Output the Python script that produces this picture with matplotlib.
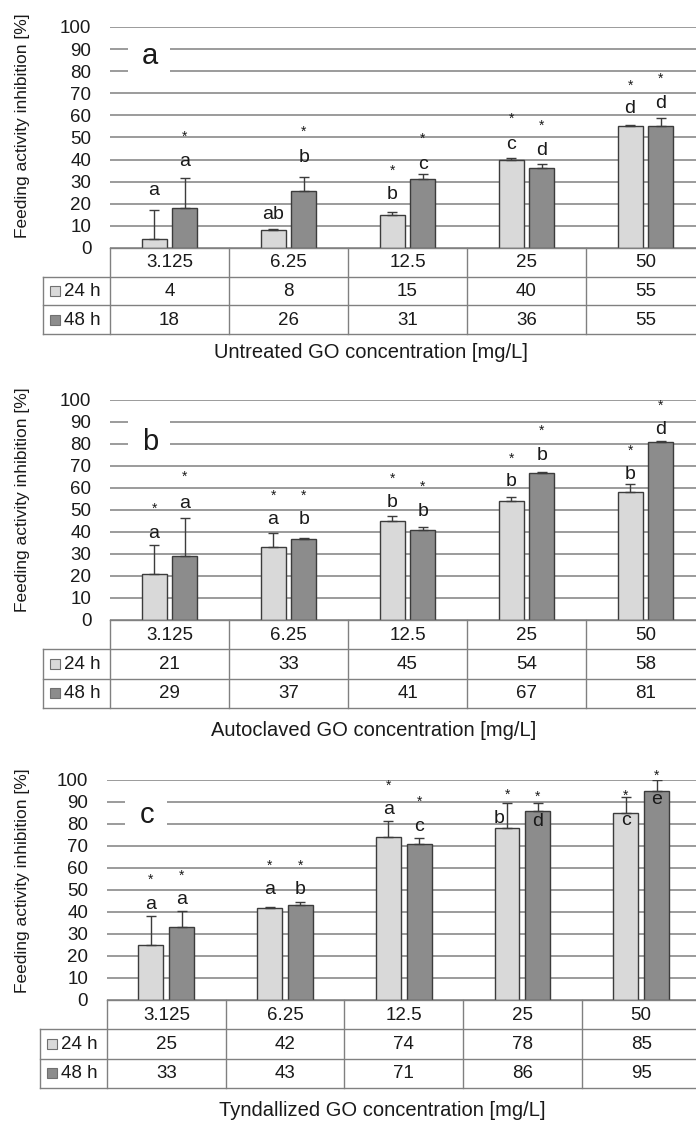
import matplotlib
matplotlib.use("Agg")
import matplotlib.pyplot as plt
from matplotlib.patches import Rectangle
import matplotlib.transforms as mtransforms

plt.rcParams['font.family'] = ['Liberation Sans', 'DejaVu Sans']

# ---------------- data ----------------
concentrations = ["3.125", "6.25", "12.5", "25", "50"]
series_names = ["24 h", "48 h"]
panel_letters = ["a", "b", "c"]
x_titles = ["Untreated GO concentration [mg/L]",
            "Autoclaved GO concentration [mg/L]",
            "Tyndallized GO concentration [mg/L]"]
y_title = "Feeding activity inhibition [%]"

a_24 = [4, 8, 15, 40, 55]
a_48 = [18, 26, 31, 36, 55]
a_err24 = [13, 0.5, 1.5, 0.5, 0.7]
a_err48 = [13.5, 6, 2.5, 2, 4]
a_let24 = ["a", "ab", "b", "c", "d"]
a_let48 = ["a", "b", "c", "d", "d"]
a_lety24 = [26, 15, 24, 47, 63]
a_lety48 = [39, 41, 38, 44, 65.5]
a_star24 = [None, None, 37.5, 61, 76]
a_star48 = [53, 55, 52, 58, 79]

b_24 = [21, 33, 45, 54, 58]
b_48 = [29, 37, 41, 67, 81]
b_err24 = [13, 6.4, 2.3, 2, 4]
b_err48 = [17.5, 0.3, 1.4, 0.3, 0.3]
b_let24 = ["a", "a", "b", "b", "b"]
b_let48 = ["a", "b", "b", "b", "d"]
b_lety24 = [39.4, 45.5, 53.3, 63, 66]
b_lety48 = [53, 45.5, 49.5, 75, 86.7]
b_star24 = [53, 59, 66.7, 76, 79.5]
b_star48 = [67.4, 59, 63, 88.6, 100]

c_24 = [25, 42, 74, 78, 85]
c_48 = [33, 43, 71, 86, 95]
c_err24 = [13, 0.5, 7.5, 11.4, 7.4]
c_err48 = [7.6, 1.7, 2.8, 3.7, 5]
c_let24 = ["a", "a", "a", "b", "c"]
c_let48 = ["a", "b", "c", "d", "e"]
c_lety24 = [43.6, 50, 86.7, 82.6, 81.8]
c_lety48 = [45.5, 50, 78.8, 81, 91]
c_letdx24 = [0, 0, 0, -0.07, 0]
c_star24 = [57, 63.6, 100, 95.8, 95.5]
c_star48 = [59, 63.6, 92.4, 94.7, 104.5]

panels = [
    dict(v24=a_24, v48=a_48, e24=a_err24, e48=a_err48, l24=a_let24, l48=a_let48,
         ly24=a_lety24, ly48=a_lety48, s24=a_star24, s48=a_star48, dx24=[0]*5),
    dict(v24=b_24, v48=b_48, e24=b_err24, e48=b_err48, l24=b_let24, l48=b_let48,
         ly24=b_lety24, ly48=b_lety48, s24=b_star24, s48=b_star48, dx24=[0]*5),
    dict(v24=c_24, v48=c_48, e24=c_err24, e48=c_err48, l24=c_let24, l48=c_let48,
         ly24=c_lety24, ly48=c_lety48, s24=c_star24, s48=c_star48, dx24=c_letdx24),
]

# ---------------- layout (pixels) ----------------
W, H = 696, 1124
layout = [
    dict(top=27, bot=248, tbot=334, left=110, colw=119, xl=(371, 352), yl=(23, 126), lab_y=87),
    dict(top=400, bot=620, tbot=708, left=110, colw=119, xl=(374, 730), yl=(23, 500), lab_y=81),
    dict(top=780, bot=1000, tbot=1088, left=107, colw=118.7, xl=(382, 1110), yl=(23, 881), lab_y=84),
]

c_light = "#d9d9d9"
c_dark = "#8c8c8c"
c_edge = "#3c3c3c"
c_grid = "#8a8a8a"
c_tab = "#808080"
bw = 0.21
off = 0.13

fig = plt.figure(figsize=(W / 100, H / 100), dpi=100)

for p, L, plet, xt in zip(panels, layout, panel_letters, x_titles):
    axw = 5 * L["colw"] / W
    ax = fig.add_axes([L["left"] / W, 1 - L["bot"] / H, axw, (L["bot"] - L["top"]) / H])
    x = list(range(5))
    x24 = [i - off for i in x]
    x48 = [i + off for i in x]
    ax.bar(x24, p["v24"], width=bw, color=c_light, edgecolor=c_edge, linewidth=1.0, zorder=3)
    ax.bar(x48, p["v48"], width=bw, color=c_dark, edgecolor=c_edge, linewidth=1.0, zorder=3)
    ax.errorbar(x24, p["v24"], yerr=[[0] * 5, p["e24"]], fmt="none", ecolor=c_edge,
                elinewidth=1.0, capsize=3.5, capthick=1.0, zorder=4)
    ax.errorbar(x48, p["v48"], yerr=[[0] * 5, p["e48"]], fmt="none", ecolor=c_edge,
                elinewidth=1.0, capsize=3.5, capthick=1.0, zorder=4)
    star_tr = mtransforms.offset_copy(ax.transData, fig=fig, x=0, y=-4, units="points")
    for i in x:
        ax.text(x24[i] + p["dx24"][i], p["ly24"][i], p["l24"][i], ha="center", va="center",
                fontsize=14, color="#1a1a1a", zorder=6, clip_on=False)
        ax.text(x48[i], p["ly48"][i], p["l48"][i], ha="center", va="center",
                fontsize=14, color="#1a1a1a", zorder=6, clip_on=False)
        if p["s24"][i] is not None:
            ax.text(x24[i], p["s24"][i], "*", ha="center", va="center", fontsize=10,
                    color="#1a1a1a", transform=star_tr, zorder=6, clip_on=False)
        if p["s48"][i] is not None:
            ax.text(x48[i], p["s48"][i], "*", ha="center", va="center", fontsize=10,
                    color="#1a1a1a", transform=star_tr, zorder=6, clip_on=False)
    ax.set_xlim(-0.5, 4.5)
    ax.set_ylim(0, 100)
    ax.set_yticks(range(0, 101, 10))
    ax.set_xticks([])
    ax.yaxis.grid(True, color=c_grid, linewidth=1.2)
    ax.set_axisbelow(True)
    for s in ax.spines.values():
        s.set_visible(False)
    ax.tick_params(axis="y", length=0, pad=13.5, labelsize=13.5, labelcolor="#1a1a1a")
    # panel letter with white box breaking gridlines
    ax.add_patch(Rectangle((-0.349, 75), 0.353, 20, facecolor="white", edgecolor="none", zorder=2))
    ax.text(-0.164, L["lab_y"], plet, ha="center", va="center", fontsize=21,
            color="#1a1a1a", zorder=6)

    # table
    tb = fig.add_axes([L["left"] / W, 1 - L["tbot"] / H, axw, (L["tbot"] - L["bot"]) / H])
    tb.set_xlim(-0.5, 4.5)
    tb.set_ylim(3, 0)
    tb.axis("off")
    xl = -0.5 - 67 / L["colw"]
    for yy in [1, 2, 3]:
        tb.plot([xl, 4.6], [yy, yy], color=c_tab, lw=1.0, clip_on=False)
    tb.plot([-0.5, 4.6], [0, 0], color=c_tab, lw=1.0, clip_on=False)
    tb.plot([xl, xl], [1, 3], color=c_tab, lw=1.0, clip_on=False)
    for xx in [-0.5, 0.5, 1.5, 2.5, 3.5]:
        tb.plot([xx, xx], [0, 3], color=c_tab, lw=1.0, clip_on=False)
    for i, cname in enumerate(concentrations):
        tb.text(i, 0.52, cname, ha="center", va="center", fontsize=13.5, color="#1a1a1a")
        tb.text(i, 1.52, str(p["v24"][i]), ha="center", va="center", fontsize=13.5, color="#1a1a1a")
        tb.text(i, 2.52, str(p["v48"][i]), ha="center", va="center", fontsize=13.5, color="#1a1a1a")
    sq_x = -0.5 - 55 / L["colw"]
    tx_x = -0.5 - 46 / L["colw"]
    for r, (nm, col) in enumerate(zip(series_names, [c_light, c_dark])):
        tb.plot([sq_x], [1.5 + r], marker="s", markersize=6.5, markerfacecolor=col,
                markeredgecolor="#707070", markeredgewidth=0.8, clip_on=False, linestyle="none")
        tb.text(tx_x, 1.52 + r, nm, ha="left", va="center", fontsize=13.5, color="#1a1a1a",
                clip_on=False)

    fig.text(L["xl"][0] / W, 1 - L["xl"][1] / H, xt, ha="center", va="center",
             fontsize=14.5, color="#1a1a1a")
    fig.text(L["yl"][0] / W, 1 - L["yl"][1] / H, y_title, ha="center", va="center",
             rotation=90, fontsize=12.5, color="#1a1a1a")

fig.savefig("out.png", dpi=100)
